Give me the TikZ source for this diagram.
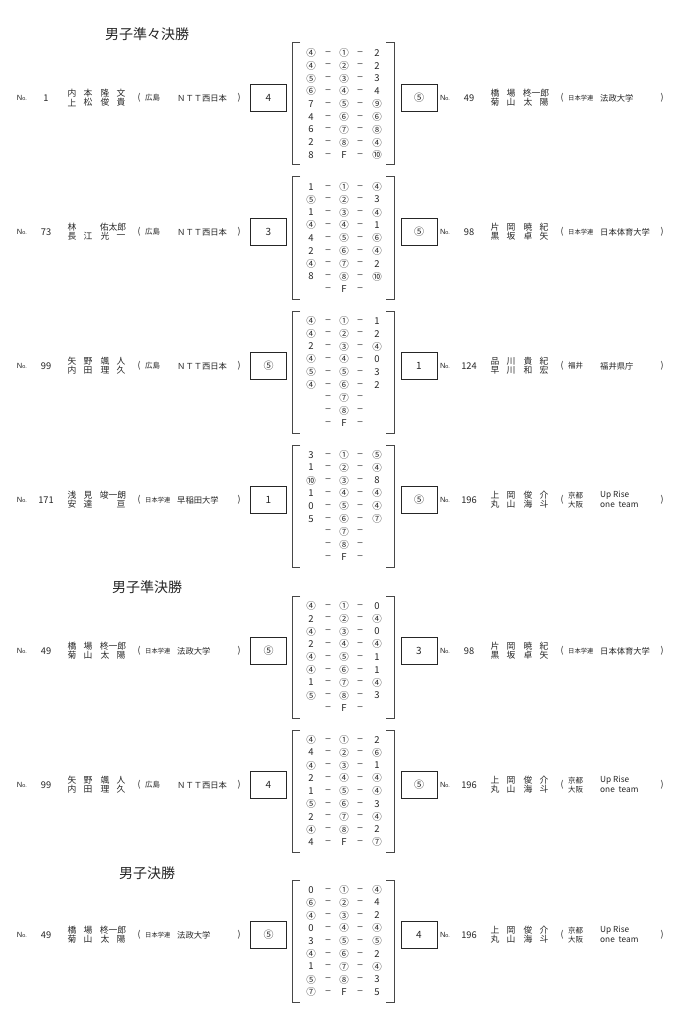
\documentclass[tikz,border=0pt]{standalone}
\usepackage{fontspec}
\newfontfamily\jp{Noto Sans CJK JP}
\newfontfamily\lat{Liberation Sans}
\definecolor{ink}{HTML}{262626}
\tikzset{
  base/.style={inner sep=0pt, font=\jp\fontsize{8.8}{9}\selectfont, text=ink},
  nm/.style={base},
  ttl/.style={base, font=\jp\fontsize{14}{16}\selectfont},
  nob/.style={base, font=\lat\fontsize{7.5}{8}\selectfont},
  num/.style={base, font=\jp\fontsize{9.3}{10}\selectfont},
  prf/.style={base, anchor=west, font=\jp\fontsize{7.5}{8}\selectfont},
  tm/.style={base, anchor=west, font=\jp\fontsize{8.3}{9}\selectfont},
  sc/.style={base, font=\jp\fontsize{9.5}{10}\selectfont},
  dsh/.style={base, font=\lat\fontsize{9}{10}\selectfont},
  scorebox/.style={draw=ink, line width=1pt, minimum width=36pt, minimum height=27pt,
    inner sep=0pt, font=\jp\fontsize{10}{11}\selectfont, text=ink},
  brk/.style={draw=ink!85, line width=1pt},
}
\newcommand\gak{{\fontsize{6.3}{7}\selectfont 日本学連}}
\newcommand\NmFour[4]{%
  \node[nm] (\cp\ct a) at ({\cx+72},{\cy}) {#1};
  \node[nm] (\cp\ct b) at ({\cx+88},{\cy}) {#2};
  \node[nm] (\cp\ct c) at ({\cx+105},{\cy}) {#3};
  \node[nm] (\cp\ct d) at ({\cx+121},{\cy}) {#4};}
\newcommand\NmThree[3]{%
  \node[nm] (\cp\ct a) at ({\cx+72},{\cy}) {#1};
  \node[nm] (\cp\ct b) at ({\cx+88},{\cy}) {#2};
  \node[nm] (\cp\ct c) at ({\cx+113},{\cy}) {#3};}
\newcommand\PrefOne[1]{\node[prf] (\cp pref) at ({\cx+145},{\yc}) {#1};}
\newcommand\PrefTwo[2]{%
  \node[prf] (\cp prefu) at ({\cx+145},{\yc-4.6}) {#1};
  \node[prf] (\cp prefl) at ({\cx+145},{\yc+4.6}) {#2};}
\newcommand\TeamOne[1]{\node[tm] (\cp team) at ({\cx+177},{\yc}) {#1};}
\newcommand\TeamTwo[2]{%
  \node[tm] (\cp teamu) at ({\cx+177},{\yc-4.6}) {#1};
  \node[tm] (\cp teaml) at ({\cx+177},{\yc+4.6}) {#2};}
\newcommand\Player[8]{%
  \def\cp{#1}\def\cx{#2}\def\yc{#3}%
  \node[nob] (#1no) at ({#2+22},{#3}) {N{\fontsize{5.5}{6}\selectfont o.}};
  \node[num] (#1num) at ({#2+46},{#3}) {#4};
  \def\ct{u}\def\cy{#3-4.6}#5
  \def\ct{l}\def\cy{#3+4.6}#6
  \node[base] (#1lp) at ({#2+139},{#3}) {(};
  #7
  #8
  \node[base] (#1rp) at ({#2+239},{#3}) {)};
}
\newcommand\Match[5]{% #1 prefix, #2 yc, #3 left box, #4 right box, #5 rows
  \node[scorebox] (#1bl) at (268.5,#2) {#3};
  \node[scorebox] (#1br) at (419,#2) {#4};
  \foreach [count=\k from 0] \a/\b/\c in {#5} {
    \pgfmathsetmacro\ry{#2+6+(\k-4)*12.8}
    \node[sc] (#1r\k a) at (311,\ry) {\a};
    \node[dsh] (#1r\k d) at (328,\ry) {–};
    \node[sc] (#1r\k b) at (344,\ry) {\b};
    \node[dsh] (#1r\k e) at (360,\ry) {–};
    \node[sc] (#1r\k c) at (377,\ry) {\c};
  }
  \pgfmathsetmacro\bt{#2+6-61}
  \pgfmathsetmacro\bb{#2+6+61}
  \coordinate (#1ltt) at (300,\bt);
  \coordinate (#1ltc) at (292,\bt);
  \coordinate (#1lbc) at (292,\bb);
  \coordinate (#1lbt) at (300,\bb);
  \coordinate (#1rtt) at (386,\bt);
  \coordinate (#1rtc) at (394,\bt);
  \coordinate (#1rbc) at (394,\bb);
  \coordinate (#1rbt) at (386,\bb);
  \draw[brk] (#1ltt) -- (#1ltc) -- (#1lbc) -- (#1lbt);
  \draw[brk] (#1rtt) -- (#1rtc) -- (#1rbc) -- (#1rbt);
}
\begin{document}
\begin{tikzpicture}[x=1pt,y=-1pt]
\fill[white] (0,0) rectangle (682,1024);
\useasboundingbox (0,0) rectangle (682,1024);

\node[ttl] (t1) at (147,34) {男子準々決勝};
\node[ttl] (t2) at (147,587) {男子準決勝};
\node[ttl] (t3) at (147,873) {男子決勝};

% QF 1
\Match{ma}{98}{4}{⑤}{④/①/2,④/②/2,⑤/③/3,⑥/④/4,7/⑤/⑨,4/⑥/⑥,6/⑦/⑧,2/⑧/④,8/F/⑩}
\Player{maL}{0}{98}{1}{\NmFour{内}{本}{隆}{文}}{\NmFour{上}{松}{俊}{貴}}{\PrefOne{広島}}{\TeamOne{ＮＴＴ西日本}}
\Player{maR}{423}{98}{49}{\NmThree{橋}{場}{柊一郎}}{\NmFour{菊}{山}{太}{陽}}{\PrefOne{\gak}}{\TeamOne{法政大学}}

% QF 2
\Match{mb}{232}{3}{⑤}{1/①/④,⑤/②/3,1/③/④,④/④/1,4/⑤/⑥,2/⑥/④,④/⑦/2,8/⑧/⑩,/F/}
\Player{mbL}{0}{232}{73}{\NmThree{林}{}{佑太郎}}{\NmFour{長}{江}{光}{一}}{\PrefOne{広島}}{\TeamOne{ＮＴＴ西日本}}
\Player{mbR}{423}{232}{98}{\NmFour{片}{岡}{暁}{紀}}{\NmFour{黒}{坂}{卓}{矢}}{\PrefOne{\gak}}{\TeamOne{日本体育大学}}

% QF 3
\Match{mc}{366}{⑤}{1}{④/①/1,④/②/2,2/③/④,④/④/0,⑤/⑤/3,④/⑥/2,/⑦/,/⑧/,/F/}
\Player{mcL}{0}{366}{99}{\NmFour{矢}{野}{颯}{人}}{\NmFour{内}{田}{理}{久}}{\PrefOne{広島}}{\TeamOne{ＮＴＴ西日本}}
\Player{mcR}{423}{366}{124}{\NmFour{品}{川}{貴}{紀}}{\NmFour{早}{川}{和}{宏}}{\PrefOne{福井}}{\TeamOne{福井県庁}}

% QF 4
\Match{md}{500}{1}{⑤}{3/①/⑤,1/②/④,⑩/③/8,1/④/④,0/⑤/④,5/⑥/⑦,/⑦/,/⑧/,/F/}
\Player{mdL}{0}{500}{171}{\NmThree{浅}{見}{竣一朗}}{\NmFour{安}{達}{}{亘}}{\PrefOne{\gak}}{\TeamOne{早稲田大学}}
\Player{mdR}{423}{500}{196}{\NmFour{上}{岡}{俊}{介}}{\NmFour{丸}{山}{海}{斗}}{\PrefTwo{京都}{大阪}}{\TeamTwo{Up Rise}{one\ \ team}}

% SF 1
\Match{me}{651}{⑤}{3}{④/①/0,2/②/④,④/③/0,2/④/④,④/⑤/1,④/⑥/1,1/⑦/④,⑤/⑧/3,/F/}
\Player{meL}{0}{651}{49}{\NmThree{橋}{場}{柊一郎}}{\NmFour{菊}{山}{太}{陽}}{\PrefOne{\gak}}{\TeamOne{法政大学}}
\Player{meR}{423}{651}{98}{\NmFour{片}{岡}{暁}{紀}}{\NmFour{黒}{坂}{卓}{矢}}{\PrefOne{\gak}}{\TeamOne{日本体育大学}}

% SF 2
\Match{mf}{785}{4}{⑤}{④/①/2,4/②/⑥,④/③/1,2/④/④,1/⑤/④,⑤/⑥/3,2/⑦/④,④/⑧/2,4/F/⑦}
\Player{mfL}{0}{785}{99}{\NmFour{矢}{野}{颯}{人}}{\NmFour{内}{田}{理}{久}}{\PrefOne{広島}}{\TeamOne{ＮＴＴ西日本}}
\Player{mfR}{423}{785}{196}{\NmFour{上}{岡}{俊}{介}}{\NmFour{丸}{山}{海}{斗}}{\PrefTwo{京都}{大阪}}{\TeamTwo{Up Rise}{one\ \ team}}

% Final
\Match{mg}{935}{⑤}{4}{0/①/④,⑥/②/4,④/③/2,0/④/④,3/⑤/⑤,④/⑥/2,1/⑦/④,⑤/⑧/3,⑦/F/5}
\Player{mgL}{0}{935}{49}{\NmThree{橋}{場}{柊一郎}}{\NmFour{菊}{山}{太}{陽}}{\PrefOne{\gak}}{\TeamOne{法政大学}}
\Player{mgR}{423}{935}{196}{\NmFour{上}{岡}{俊}{介}}{\NmFour{丸}{山}{海}{斗}}{\PrefTwo{京都}{大阪}}{\TeamTwo{Up Rise}{one\ \ team}}
\end{tikzpicture}
\end{document}
